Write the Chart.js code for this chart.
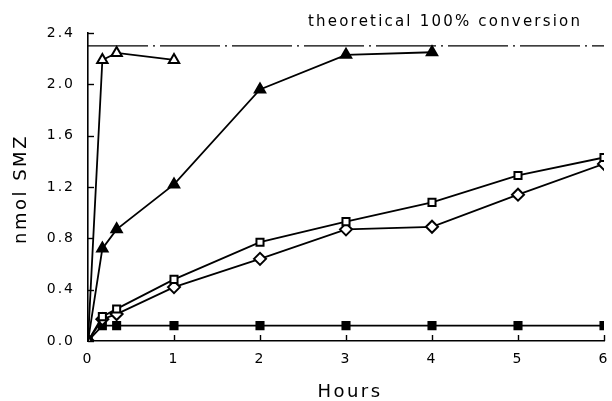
<!DOCTYPE html>
<html>
<head>
<meta charset="utf-8">
<script src="https://cdn.jsdelivr.net/npm/chart.js@4"></script>
<style>
  html, body { margin: 0; padding: 0; background: #fff; }
  #wrap { width: 612px; height: 401px; }
</style>
</head>
<body>
<div id="wrap"><canvas id="chart" width="612" height="401"></canvas></div>
<script>
// time points (hours)
const hours = [0, 0.167, 0.333, 1, 2, 3, 4, 5, 6];
const hoursTriOpen = [0, 0.167, 0.333, 1];
const hoursTriFilled = [0, 0.167, 0.333, 1, 2, 3, 4];

// nmol SMZ
const openTriangle = [0, 2.19, 2.245, 2.19];
const filledTriangle = [0, 0.72, 0.87, 1.22, 1.96, 2.23, 2.25];
const openSquare = [0, 0.19, 0.25, 0.48, 0.77, 0.93, 1.08, 1.29, 1.43];
const openDiamond = [0, 0.17, 0.21, 0.42, 0.64, 0.87, 0.89, 1.14, 1.38];
const filledSquare = [0, 0.12, 0.12, 0.12, 0.12, 0.12, 0.12, 0.12, 0.12];
const theoretical = 2.3;

const xTicks = [0, 1, 2, 3, 4, 5, 6];
const yTicks = [0, 0.4, 0.8, 1.2, 1.6, 2.0, 2.4];

function pts(xs, ys) {
    return ys.map((y, i) => ({ x: xs[i], y: y }));
}

function series(xs, ys, style, filled, radius) {
    return {
        data: pts(xs, ys),
        showLine: true,
        borderColor: '#000',
        borderWidth: 1.8,
        pointStyle: style,
        pointRadius: radius,
        pointBorderWidth: 2,
        pointBorderColor: '#000',
        pointBackgroundColor: filled ? '#000' : '#fff'
    };
}

// wide letter spacing, inward tick marks, axis titles and the annotation
const extras = {
    id: 'extras',
    beforeDraw(chart) {
        chart.ctx.letterSpacing = '2px';
    },
    afterDraw(chart) {
        const c = chart.ctx;
        const xs = chart.scales.x, ys = chart.scales.y;
        const area = chart.chartArea;
        c.save();
        c.strokeStyle = '#000';
        c.lineWidth = 1.4;
        yTicks.forEach(v => {
            const p = Math.round(ys.getPixelForValue(v)) + 0.5;
            c.beginPath();
            c.moveTo(area.left, p);
            c.lineTo(area.left + 6, p);
            c.stroke();
        });
        xTicks.forEach(v => {
            const p = Math.round(xs.getPixelForValue(v)) + 0.5;
            c.beginPath();
            c.moveTo(p, area.bottom);
            c.lineTo(p, area.bottom - 6);
            c.stroke();
        });
        c.fillStyle = '#000';
        c.textBaseline = 'middle';
        c.textAlign = 'left';
        c.font = '15px "DejaVu Sans"';
        c.letterSpacing = '2.2px';
        c.fillText('theoretical 100% conversion', 308, 22);

        c.font = '18px "DejaVu Sans"';
        c.letterSpacing = '2.5px';
        c.textAlign = 'center';
        c.fillText('Hours', 350, 392);
        c.translate(21, 189);
        c.rotate(-Math.PI / 2);
        c.fillText('nmol SMZ', 0, 0);
        c.restore();
        c.letterSpacing = '0px';
    }
};

const ctx = document.getElementById('chart');
new Chart(ctx, {
    type: 'scatter',
    data: {
        datasets: [
            {
                data: pts([0, 6], [theoretical, theoretical]),
                showLine: true,
                borderColor: '#000',
                borderWidth: 1.4,
                borderDash: [60, 5, 2, 5],
                pointRadius: 0
            },
            series(hoursTriOpen, openTriangle, 'triangle', false, 6),
            series(hoursTriFilled, filledTriangle, 'triangle', true, 6),
            series(hours, openSquare, 'rect', false, 5),
            series(hours, openDiamond, 'rectRot', false, 6),
            series(hours, filledSquare, 'rect', true, 5)
        ]
    },
    options: {
        responsive: false,
        animation: false,
        layout: { padding: { top: 33, right: 1, left: 0, bottom: 0 } },
        plugins: {
            legend: { display: false },
            tooltip: { enabled: false }
        },
        scales: {
            x: {
                type: 'linear',
                min: 0,
                max: 6,
                grid: { display: false, drawTicks: false },
                border: { display: true, color: '#000', width: 1.6 },
                ticks: {
                    stepSize: 1,
                    color: '#000',
                    padding: 10,
                    font: { family: 'DejaVu Sans', size: 14 }
                },
                afterFit(scale) {
                    scale.height = 60;
                    scale.paddingLeft = 0;
                    scale.paddingRight = 0;
                }
            },
            y: {
                min: 0,
                max: 2.4,
                grid: { display: false, drawTicks: false },
                border: { display: true, color: '#000', width: 1.6 },
                ticks: {
                    stepSize: 0.4,
                    color: '#000',
                    padding: 13,
                    font: { family: 'DejaVu Sans', size: 14 },
                    callback: v => v.toFixed(1)
                },
                afterFit(scale) {
                    scale.width = 88;
                    scale.paddingTop = 0;
                    scale.paddingBottom = 0;
                }
            }
        }
    },
    plugins: [extras]
});
</script>
</body>
</html>
